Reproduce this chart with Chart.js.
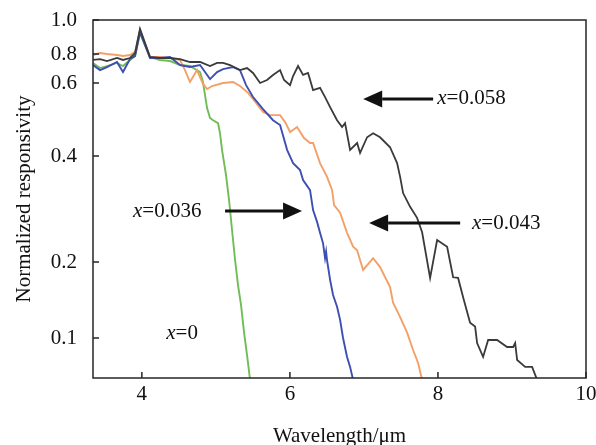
<!DOCTYPE html>
<html>
<head>
<meta charset="utf-8">
<script src="https://cdn.jsdelivr.net/npm/chart.js@4.4.1/dist/chart.umd.min.js"></script>
<style>
  body { margin: 0; background: #fff; }
  .container-canvas { width: 596px; height: 445px; }
</style>
</head>
<body>
<div class="container-canvas"><canvas id="myChart"></canvas></div>
<script>
// x = 0
const wl0 = [3.34, 3.435, 3.529, 3.664, 3.745, 3.84, 3.908, 3.975, 4.11, 4.245, 4.38, 4.516, 4.65, 4.786, 4.826, 4.853, 4.881, 4.921, 4.962, 5.029, 5.056, 5.083, 5.137, 5.178, 5.218, 5.259, 5.299, 5.34, 5.381, 5.421, 5.462];
const resp0 = [0.732, 0.696, 0.710, 0.732, 0.710, 0.754, 0.784, 0.918, 0.777, 0.754, 0.746, 0.717, 0.710, 0.669, 0.606, 0.561, 0.522, 0.494, 0.488, 0.480, 0.454, 0.414, 0.353, 0.300, 0.247, 0.203, 0.162, 0.135, 0.105, 0.0856, 0.0682];

// x = 0.036
const wl036 = [3.34, 3.435, 3.529, 3.664, 3.745, 3.84, 3.908, 3.975, 4.11, 4.245, 4.38, 4.516, 4.65, 4.786, 4.921, 5.016, 5.097, 5.232, 5.326, 5.408, 5.502, 5.637, 5.772, 5.867, 5.962, 6.043, 6.137, 6.178, 6.272, 6.313, 6.367, 6.407, 6.448, 6.475, 6.489, 6.502, 6.543, 6.583, 6.637, 6.678, 6.718, 6.772, 6.813, 6.854];
const resp036 = [0.717, 0.682, 0.703, 0.739, 0.669, 0.761, 0.784, 0.923, 0.769, 0.769, 0.777, 0.717, 0.703, 0.717, 0.624, 0.669, 0.689, 0.703, 0.682, 0.593, 0.555, 0.519, 0.488, 0.475, 0.414, 0.382, 0.365, 0.342, 0.320, 0.281, 0.260, 0.242, 0.226, 0.205, 0.214, 0.202, 0.170, 0.148, 0.133, 0.118, 0.100, 0.0841, 0.0768, 0.0682];

// x = 0.043
const wl043 = [3.34, 3.435, 3.529, 3.664, 3.745, 3.84, 3.908, 3.975, 4.11, 4.245, 4.38, 4.516, 4.583, 4.65, 4.745, 4.826, 4.881, 4.948, 5.097, 5.232, 5.326, 5.435, 5.543, 5.637, 5.732, 5.867, 5.935, 6.002, 6.097, 6.191, 6.272, 6.313, 6.407, 6.502, 6.57, 6.597, 6.678, 6.772, 6.854, 6.908, 6.989, 7.124, 7.218, 7.353, 7.394, 7.489, 7.583, 7.664, 7.732, 7.786];
const resp043 = [0.792, 0.805, 0.800, 0.792, 0.784, 0.792, 0.811, 0.936, 0.777, 0.777, 0.769, 0.754, 0.682, 0.606, 0.682, 0.597, 0.580, 0.590, 0.600, 0.606, 0.590, 0.568, 0.537, 0.511, 0.502, 0.502, 0.483, 0.457, 0.470, 0.442, 0.430, 0.430, 0.382, 0.349, 0.320, 0.290, 0.276, 0.242, 0.221, 0.216, 0.186, 0.205, 0.191, 0.159, 0.138, 0.121, 0.105, 0.0896, 0.0796, 0.0682];

// x = 0.058
const wl058 = [3.34, 3.435, 3.529, 3.664, 3.745, 3.84, 3.908, 3.975, 4.11, 4.245, 4.38, 4.516, 4.65, 4.786, 4.921, 5.016, 5.097, 5.191, 5.326, 5.421, 5.502, 5.597, 5.691, 5.772, 5.867, 5.921, 6.002, 6.043, 6.11, 6.178, 6.245, 6.313, 6.407, 6.475, 6.543, 6.637, 6.705, 6.745, 6.813, 6.908, 6.948, 7.043, 7.124, 7.218, 7.353, 7.448, 7.489, 7.529, 7.624, 7.718, 7.786, 7.894, 7.989, 8.124, 8.205, 8.272, 8.34, 8.434, 8.502, 8.529, 8.61, 8.678, 8.799, 8.934, 9.016, 9.043, 9.07, 9.178, 9.272, 9.34];
const resp058 = [0.754, 0.761, 0.746, 0.769, 0.754, 0.769, 0.805, 0.943, 0.777, 0.769, 0.769, 0.761, 0.739, 0.739, 0.710, 0.732, 0.732, 0.717, 0.682, 0.696, 0.663, 0.600, 0.618, 0.650, 0.682, 0.618, 0.593, 0.643, 0.710, 0.650, 0.663, 0.577, 0.584, 0.555, 0.525, 0.488, 0.470, 0.480, 0.414, 0.430, 0.407, 0.444, 0.454, 0.444, 0.420, 0.382, 0.349, 0.314, 0.287, 0.267, 0.243, 0.173, 0.231, 0.221, 0.174, 0.173, 0.145, 0.115, 0.111, 0.0955, 0.0841, 0.0982, 0.0982, 0.0921, 0.0921, 0.0955, 0.0818, 0.0768, 0.0768, 0.0682];

const xTicks = [4, 6, 8, 10];
const yTicks = [0.1, 0.2, 0.4, 0.6, 0.8, 1.0];

// labels and arrows, in data units
const labels = [
	{ text: '0.058', x: 7.99, y: 0.552 },
	{ text: '0.043', x: 8.46, y: 0.258 },
	{ text: '0.036', x: 3.88, y: 0.279 },
	{ text: '0', x: 4.33, y: 0.104 }
];
const arrows = [
	{ from: 7.935, to: 6.99, y: 0.549 },
	{ from: 8.30, to: 7.07, y: 0.258 },
	{ from: 5.124, to: 6.164, y: 0.279 }
];

// the printed y axis is only roughly logarithmic: place its ticks where the figure has them
const yAxisKnots = [[0.0694, 0], [0.1, 0.1117], [0.2, 0.324], [0.4, 0.620], [0.6, 0.824], [0.8, 0.905], [1.0, 1.0]];

const LogScale = Chart.LogarithmicScale || Chart.registry.getScale('logarithmic');

class FigureLogScale extends LogScale {
	getPixelForValue(value) {
		if (value === undefined || value === null || isNaN(value) || value <= 0) return NaN;
		const lv = Math.log10(value);
		const k = yAxisKnots;
		let i = 0;
		while (i < k.length - 2 && lv > Math.log10(k[i + 1][0])) i++;
		const a = Math.log10(k[i][0]), b = Math.log10(k[i + 1][0]);
		const dec = k[i][1] + (lv - a) / (b - a) * (k[i + 1][1] - k[i][1]);
		return this.getPixelForDecimal(dec);
	}
	getValueForPixel(pixel) {
		const dec = this.getDecimalForPixel(pixel);
		const k = yAxisKnots;
		let i = 0;
		while (i < k.length - 2 && dec > k[i + 1][1]) i++;
		const a = Math.log10(k[i][0]), b = Math.log10(k[i + 1][0]);
		return Math.pow(10, a + (dec - k[i][1]) / (k[i + 1][1] - k[i][1]) * (b - a));
	}
}
FigureLogScale.id = 'figureLog';
FigureLogScale.defaults = LogScale.defaults;
Chart.register(FigureLogScale);

const FONT = 'Liberation Serif, Times New Roman, serif';

const toPoints = (xs, ys) => xs.map((x, i) => ({ x: x, y: ys[i] }));

const framePlugin = {
	id: 'frame',
	afterDatasetsDraw(chart) {
		const { ctx, chartArea: a, scales } = chart;
		ctx.save();
		ctx.strokeStyle = '#262626';
		ctx.lineWidth = 1.5;
		ctx.strokeRect(a.left, a.top, a.right - a.left, a.bottom - a.top);
		ctx.beginPath();
		scales.x.ticks.forEach(t => {
			const px = scales.x.getPixelForValue(t.value);
			ctx.moveTo(px, a.bottom);
			ctx.lineTo(px, a.bottom - 6);
		});
		scales.y.ticks.forEach(t => {
			const py = scales.y.getPixelForValue(t.value);
			ctx.moveTo(a.left, py);
			ctx.lineTo(a.left + 6, py);
		});
		ctx.stroke();

		// arrows
		ctx.fillStyle = '#111';
		ctx.strokeStyle = '#111';
		ctx.lineWidth = 3;
		arrows.forEach(ar => {
			const x1 = scales.x.getPixelForValue(ar.from);
			const x2 = scales.x.getPixelForValue(ar.to);
			const py = scales.y.getPixelForValue(ar.y);
			const dir = x2 > x1 ? 1 : -1;
			const head = 19;
			ctx.beginPath();
			ctx.moveTo(x1, py);
			ctx.lineTo(x2 - dir * head, py);
			ctx.stroke();
			ctx.beginPath();
			ctx.moveTo(x2, py);
			ctx.lineTo(x2 - dir * head, py - 8.5);
			ctx.lineTo(x2 - dir * head, py + 8.5);
			ctx.closePath();
			ctx.fill();
		});

		// labels "x=..."
		ctx.textBaseline = 'middle';
		ctx.textAlign = 'left';
		labels.forEach(l => {
			const px = scales.x.getPixelForValue(l.x);
			const py = scales.y.getPixelForValue(l.y);
			ctx.font = 'italic 21px ' + FONT;
			ctx.fillText('x', px, py);
			const w = ctx.measureText('x').width;
			ctx.font = '21px ' + FONT;
			ctx.fillText('=' + l.text, px + w, py);
		});
		ctx.restore();
	}
};

const ctx = document.getElementById('myChart');
const myChart = new Chart(ctx, {
	type: 'line',
	data: {
		datasets: [
			{ label: 'x=0.058', data: toPoints(wl058, resp058), borderColor: '#3a3a3a', borderWidth: 1.8 },
			{ label: 'x=0.036', data: toPoints(wl036, resp036), borderColor: '#3e4fb2', borderWidth: 1.9 },
			{ label: 'x=0.043', data: toPoints(wl043, resp043), borderColor: '#f3a068', borderWidth: 1.9 },
			{ label: 'x=0', data: toPoints(wl0, resp0), borderColor: '#70bd55', borderWidth: 1.9 }
		]
	},
	options: {
		responsive: true,
		maintainAspectRatio: false,
		animation: false,
		layout: { padding: { top: 20, right: 10, bottom: 0, left: 0 } },
		elements: { point: { radius: 0 }, line: { tension: 0 } },
		plugins: { legend: { display: false }, tooltip: { enabled: false } },
		scales: {
			x: {
				type: 'linear',
				min: 3.34,
				max: 10,
				grid: { display: false, drawTicks: false },
				border: { display: false },
				afterBuildTicks: s => { s.ticks = xTicks.map(v => ({ value: v })); },
				afterFit: s => { s.height = 67; s.paddingLeft = 0; s.paddingRight = 0; },
				ticks: {
					color: '#111',
					padding: 4,
					maxRotation: 0,
					font: { family: FONT, size: 21 },
					callback: v => String(v)
				},
				title: {
					display: true,
					text: 'Wavelength/μm',
					color: '#111',
					padding: { top: 0, bottom: -4 },
					font: { family: FONT, size: 21 }
				}
			},
			y: {
				type: 'figureLog',
				min: 0.0694,
				max: 1.0,
				grid: { display: false, drawTicks: false },
				border: { display: false },
				afterBuildTicks: s => { s.ticks = yTicks.map(v => ({ value: v })); },
				afterFit: s => { s.width = 93; s.paddingTop = 0; s.paddingBottom = 0; },
				ticks: {
					color: '#111',
					padding: 16,
					font: { family: FONT, size: 21 },
					callback: v => Number(v).toFixed(1)
				},
				title: {
					display: true,
					text: 'Normalized responsivity',
					color: '#111',
					padding: { top: 12, bottom: 0 },
					font: { family: FONT, size: 21 }
				}
			}
		}
	},
	plugins: [framePlugin]
});
</script>
</body>
</html>
